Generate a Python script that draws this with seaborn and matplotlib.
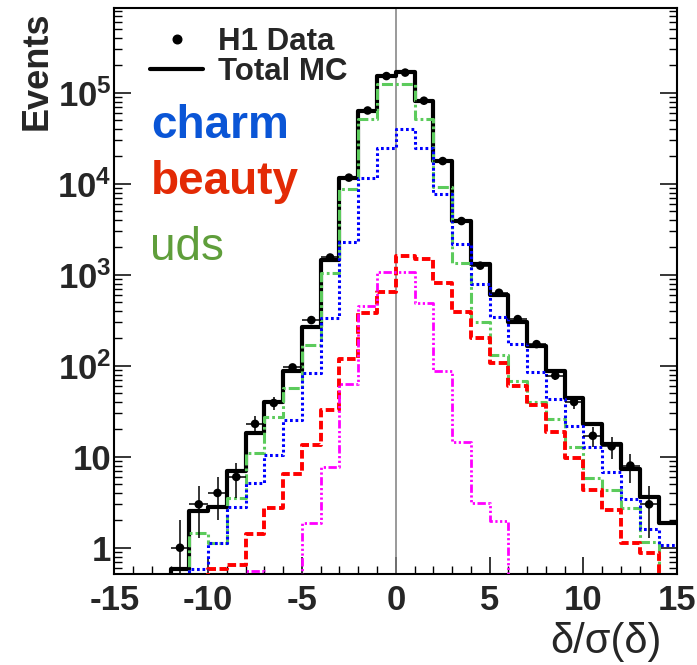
import numpy as np
import matplotlib
matplotlib.use("Agg")
import matplotlib.pyplot as plt
import seaborn as sns
from matplotlib.lines import Line2D

# ---------------- data ----------------
bin_low = list(range(-15, 15))          # lower edges of the unit-width bins
bin_edges = list(range(-15, 16))

total_mc = [0, 0, 0, 0.58, 2.53, 2.82, 7.0, 18.4, 39.9, 88, 268, 1446, 11470, 63000,
            152000, 170000, 81000, 17700, 3920, 1312, 598, 305, 166, 87.5, 44.5,
            22.7, 13.7, 7.3, 3.63, 1.88]
uds = [0, 0, 0, 0, 1.44, 1.12, 3.49, 11.1, 27.1, 57, 169, 1050, 8700, 51000,
       124000, 126000, 52000, 9270, 1334, 302, 131, 68, 39.6, 26, 12.9, 5.9, 4.3,
       2.71, 1.16, 0]
charm = [0, 0, 0, 0, 0.58, 1.14, 2.82, 5.1, 10.4, 25.3, 83, 338, 2270, 11470,
         25000, 40500, 25000, 7650, 2160, 784, 340, 173, 85, 43, 21.7, 12.7, 6.8,
         3.43, 1.59, 1.07]
beauty = [0, 0, 0, 0, 0, 0.58, 0.65, 1.40, 2.75, 6.45, 13.4, 32.8, 119, 385, 650,
          1620, 1477, 817, 395, 204, 106, 60, 37, 18.8, 9.6, 4.3, 2.6, 1.13, 0.88, 0]
other = [0, 0, 0, 0, 0, 0, 0, 0.56, 0, 0, 1.85, 7.8, 62.7, 453, 1079, 1079, 490,
         88, 14.6, 3.08, 1.98, 0, 0, 0, 0, 0, 0, 0, 0, 0]

data_x = [-11.5, -10.5, -9.5, -8.5, -7.5, -6.5, -5.5, -4.5, -3.5, -2.5, -1.5, -0.5,
          0.5, 1.5, 2.5, 3.5, 4.5, 5.5, 6.5, 7.5, 8.5, 9.5, 10.5, 11.5, 12.5, 13.5]
data_y = [1, 3, 4, 6, 23, 39, 96, 318, 1550, 11700, 64000, 153000, 167000, 82000,
          17800, 3900, 1260, 635, 326, 173, 78, 40, 17, 13, 8, 3]

x_ticks = [-15, -10, -5, 0, 5, 10, 15]
x_tick_labels = ["-15", "-10", "-5", "0", "5", "10", "15"]
y_ticks = [1, 10, 100, 1000, 10000, 100000]
y_tick_labels = ["1", "10", r"$\mathbf{10^{2}}$", r"$\mathbf{10^{3}}$",
                 r"$\mathbf{10^{4}}$", r"$\mathbf{10^{5}}$"]

# ---------------- style ----------------
sns.set_style("ticks")
plt.rcParams["font.family"] = ["Liberation Sans", "DejaVu Sans"]
plt.rcParams["mathtext.fontset"] = "custom"
plt.rcParams["mathtext.rm"] = "Liberation Sans"
plt.rcParams["mathtext.bf"] = "Liberation Sans:bold"
plt.rcParams["axes.unicode_minus"] = False

fig = plt.figure(figsize=(6.97, 6.65), dpi=100)
ax = fig.add_axes([0.164, 0.1368, 0.8077, 0.8507])

centers = [b + 0.5 for b in bin_low]

def hist(values, color, lw, dashes=None, z=2):
    kw = dict(x=centers, weights=values, bins=bin_edges, element="step",
              fill=False, color=color, linewidth=lw, ax=ax, zorder=z)
    if dashes is not None:
        kw["dashes"] = dashes
    sns.histplot(**kw)

hist(total_mc, "black", 3.0, None, 2)
hist(uds, "#5ccb5c", 2.2, (3.6, 1.0, 0.9, 1.0), 3)
hist(charm, "#0000ff", 2.2, (0.9, 0.9), 4)
hist(beauty, "#ff0000", 2.8, (2.2, 0.9), 5)
hist(other, "#ff00ff", 2.0, (3.0, 0.9, 0.8, 0.9, 0.8, 0.9, 0.8, 0.9), 6)

ax.set_yscale("log")

# data points with sqrt(N) errors and bin-width horizontal bars
ax.errorbar(data_x, data_y, xerr=0.5, yerr=np.sqrt(data_y), fmt="none",
            ecolor="black", elinewidth=1.1, capsize=0, zorder=7)
sns.scatterplot(x=data_x, y=data_y, color="black", s=38, edgecolor="none",
                ax=ax, zorder=8, legend=False)

ax.axvline(0, color="#7f7f7f", lw=1.1, zorder=1)

ax.set_xlim(-15, 15)
ax.set_ylim(0.514, 8.5e5)

ax.set_xticks(x_ticks)
ax.set_xticklabels(x_tick_labels, fontsize=25, fontweight="bold")
ax.set_xticks(range(-15, 16), minor=True)
ax.set_yticks(y_ticks)
ax.set_yticklabels(y_tick_labels, fontsize=25, fontweight="bold")
ax.yaxis.set_minor_locator(matplotlib.ticker.LogLocator(base=10, subs=np.arange(2, 10)))
ax.yaxis.set_minor_formatter(matplotlib.ticker.NullFormatter())

ax.tick_params(axis="x", which="both", direction="in", bottom=True, top=False)
ax.tick_params(axis="y", which="both", direction="in", left=True, right=True)
ax.tick_params(which="major", length=12, width=1.1, color="black")
ax.tick_params(which="minor", length=6, width=1.0, color="black")
ax.tick_params(axis="x", which="major", pad=7)
ax.tick_params(axis="y", which="major", pad=2)

for s in ax.spines.values():
    s.set_linewidth(1.5)
    s.set_color("black")

ax.set_xlabel("")
ax.set_ylabel("")

# axis titles
fig.text(662 / 697, 1 - 653 / 665, "δ/σ(δ)", fontsize=30, ha="right", va="baseline")
fig.text(20 / 697, 1 - 12 / 665, "Events", fontsize=26, fontweight="bold",
         rotation=90, ha="left", va="top")

# legend
handles = [Line2D([], [], marker="o", ls="none", color="black", markersize=6.2),
           Line2D([], [], color="black", lw=3.0)]
ax.legend(handles, ["H1 Data", "Total MC"], loc="upper left",
          bbox_to_anchor=(150 / 697, 1 - 26.5 / 665), bbox_transform=fig.transFigure,
          frameon=False, borderpad=0, borderaxespad=0, handlelength=1.7,
          handletextpad=0.48, labelspacing=0.02,
          prop={"family": "Liberation Sans", "weight": "bold", "size": 22.5})

# component labels
fig.text(151 / 697, 1 - 138.3 / 665, "charm", color="#0a55d6", fontsize=33,
         fontweight="bold", va="baseline")
fig.text(151 / 697, 1 - 194.3 / 665, "beauty", color="#e32a05", fontsize=33,
         fontweight="bold", va="baseline")
fig.text(150 / 697, 1 - 260 / 665, "uds", color="#5f9e3b", fontsize=33,
         va="baseline")

fig.savefig("out.png", dpi=100)
